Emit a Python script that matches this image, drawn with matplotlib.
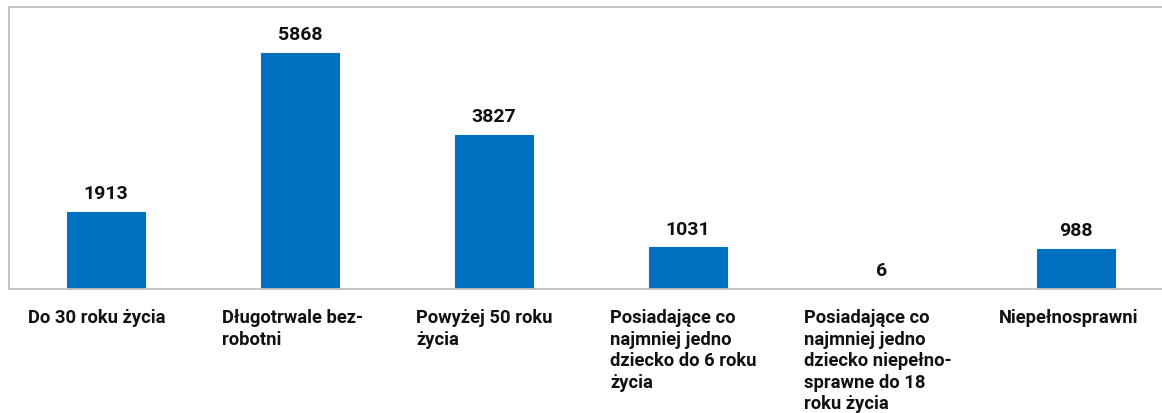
import numpy as np
import matplotlib.pyplot as plt

categories = ['Do 30 roku życia',
              'Długotrwale bez-\nrobotni',
              'Powyżej 50 roku\nżycia',
              'Posiadające co\nnajmniej jedno\ndziecko do 6 roku\nżycia',
              'Posiadające co\nnajmniej jedno\ndziecko niepełno-\nsprawne do 18\nroku życia',
              'Niepełnosprawni']
values = [1913, 5868, 3827, 1031, 6, 988]

plt.rcParams['font.family'] = ['Roboto', 'DejaVu Sans']

fig = plt.figure(figsize=(11.62, 4.14), dpi=100)
ax = fig.add_axes([9/1162, 1-290/414, 1164/1162, 282/414])

x = np.arange(len(values))
ax.bar(x, values, width=0.4, color='#0070C0', edgecolor='#0070C0', linewidth=0.8, zorder=2)
ax.set_xlim(-0.5, len(values)-0.5)
ax.set_ylim(0, 7000)

for xi, v in zip(x, values):
    ax.annotate(str(v), (xi, v), xytext=(0, 7), textcoords='offset points',
                ha='center', va='bottom', fontsize=14, fontweight='bold', color='#111111')

for xi, lab in zip(x, categories):
    ax.annotate(lab, (xi - 0.4, 0), xytext=(0, -14), textcoords='offset points',
                ha='left', va='top', fontsize=13.2, fontweight='bold', color='#111111',
                linespacing=1.24)

ax.set_xticks([])
ax.set_yticks([])
ax.spines['right'].set_visible(False)
for s in ax.spines.values():
    s.set_color('#BFBFBF')
    s.set_linewidth(1.3)

fig.savefig('out.png', dpi=100)
